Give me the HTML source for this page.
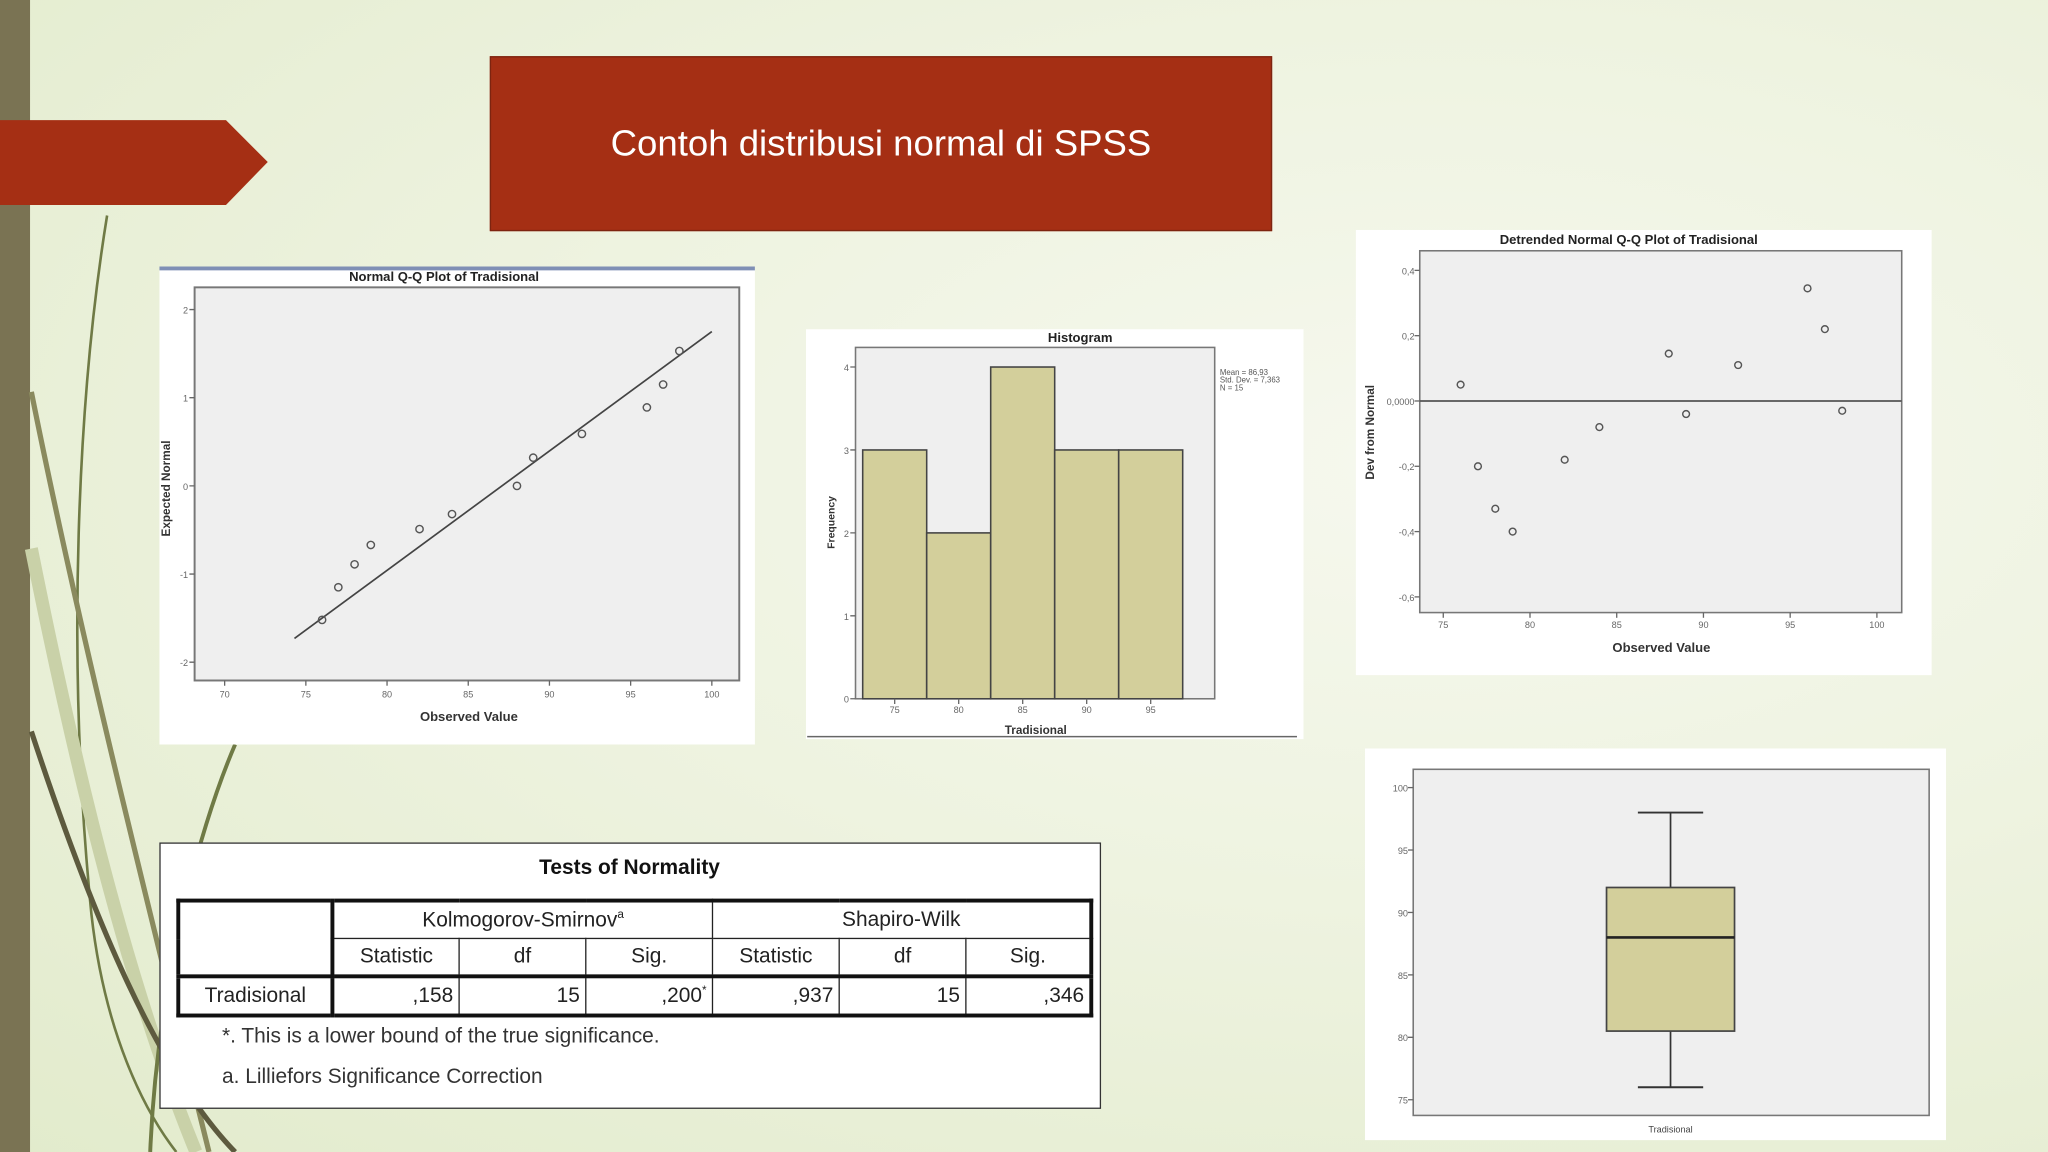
<!DOCTYPE html>
<html><head><meta charset="utf-8">
<style>
html,body{margin:0;padding:0;width:2048px;height:1152px;overflow:hidden;background:#eef2df}
#stage{position:absolute;left:0;top:0;width:1568px;height:882px;transform:scale(1.306122);transform-origin:0 0;
background:radial-gradient(ellipse at 70% 40%,#f6f8ee 0%,#eef3e0 45%,#e2ebcc 100%);font-family:"Liberation Sans",sans-serif;overflow:hidden}
.abs{position:absolute}
svg text{font-family:"Liberation Sans",sans-serif}
table.tn{border-collapse:collapse;position:absolute;left:135px;top:688px;width:699px;table-layout:fixed;font-size:16px;color:#222}
table.tn td{border:1px solid #222;height:27px;padding:0 4px;text-align:center;overflow:hidden;white-space:nowrap}
</style></head><body>
<div id="stage">
<svg class="abs" style="left:0;top:0" width="1568" height="882">
  <rect x="0" y="0" width="23" height="882" fill="#7a7353"/>
  <path d="M82,165 C60,300 50,500 70,700 C80,790 110,850 135,882" stroke="#6f7a45" stroke-width="2" fill="none"/>
  <path d="M24,300 C60,480 110,680 160,882" stroke="#8a8a5e" stroke-width="4" fill="none"/>
  <path d="M24,420 C60,600 100,760 150,882" stroke="#c9d1a8" stroke-width="10" fill="none"/>
  <path d="M180,570 C150,640 120,760 115,882" stroke="#6f7a45" stroke-width="3" fill="none"/>
  <path d="M24,560 C70,700 120,820 180,882" stroke="#5d5a3e" stroke-width="4" fill="none"/>
  <polygon points="0,92 173,92 205,124 173,157 0,157" fill="#a52f14"/>
</svg>
<div class="abs" style="left:375px;top:43px;width:597px;height:132px;background:#a52f14;border:1px solid #7d2410;color:#fff;font-size:28px;display:flex;align-items:center;justify-content:center">Contoh distribusi normal di SPSS</div>

<svg class="abs" id="qq" style="left:122px;top:204px" width="456" height="366"></svg>
<svg class="abs" id="hist" style="left:617px;top:252px" width="381" height="314"></svg>
<svg class="abs" id="dqq" style="left:1038px;top:176px" width="441" height="341"></svg>
<svg class="abs" id="box" style="left:1045px;top:573px" width="445" height="300"></svg>

<div class="abs" style="left:122px;top:645px;width:719px;height:202px;background:#fff;border:1.5px solid #333"></div>
<div class="abs" style="left:122px;top:656px;width:720px;text-align:center;font-weight:bold;font-size:16px;color:#111">Tests of Normality</div>
<table class="tn" style="border:3px solid #111">
<colgroup><col style="width:118px"><col style="width:97px"><col style="width:97px"><col style="width:97px"><col style="width:97px"><col style="width:97px"><col style="width:96px"></colgroup>
<tr><td rowspan="2" style="border-right:3px solid #111;border-bottom:3px solid #111"></td><td colspan="3">Kolmogorov-Smirnov<sup style="font-size:9px">a</sup></td><td colspan="3">Shapiro-Wilk</td></tr>
<tr style="border-bottom:3px solid #111"><td>Statistic</td><td>df</td><td>Sig.</td><td>Statistic</td><td>df</td><td>Sig.</td></tr>
<tr><td style="border-right:3px solid #111">Tradisional</td><td style="text-align:right">,158</td><td style="text-align:right">15</td><td style="text-align:right">,200<sup style="font-size:9px">*</sup></td><td style="text-align:right">,937</td><td style="text-align:right">15</td><td style="text-align:right">,346</td></tr>
</table>
<div class="abs" style="left:170px;top:785px;font-size:16px;color:#333">*. This is a lower bound of the true significance.</div>
<div class="abs" style="left:170px;top:816px;font-size:16px;color:#333">a. Lilliefors Significance Correction</div>
</div>

<script>
// Normal Q-Q data
const qqObserved = [76,77,78,79,82,84,88,89,92,96,97,98];
const qqExpected = [-1.52,-1.15,-0.89,-0.67,-0.49,-0.32,0,0.32,0.59,0.89,1.15,1.53];
const qqLineX = [74.3,100];
const qqLineY = [-1.73,1.75];
const qqXTicks = [70,75,80,85,90,95,100];
const qqYTicks = [2,1,0,-1,-2];
// Histogram data
const histBinStarts = [72.5,77.5,82.5,87.5,92.5];
const histCounts = [3,2,4,3,3];
const histXTicks = [75,80,85,90,95];
const histYTicks = [0,1,2,3,4];
const histStats = ["Mean = 86,93","Std. Dev. = 7,363","N = 15"];
// Detrended Q-Q data
const dqqObserved = [76,77,78,79,82,84,88,89,92,96,97,98];
const dqqDev = [0.05,-0.2,-0.33,-0.4,-0.18,-0.08,0.145,-0.04,0.11,0.345,0.22,-0.03];
const dqqXTicks = [75,80,85,90,95,100];
const dqqYTicks = [0.4,0.2,0,-0.2,-0.4,-0.6];
const dqqYLabels = ["0,4","0,2","0,0000","-0,2","-0,4","-0,6"];
// Boxplot data
const boxStats = {min:76,q1:80.5,median:88,q3:92,max:98};
const boxYTicks = [100,95,90,85,80,75];

const NS="http://www.w3.org/2000/svg";
function mk(svg,tag,attrs,txt){const e=document.createElementNS(NS,tag);for(const k in attrs)e.setAttribute(k,attrs[k]);if(txt!==undefined)e.textContent=txt;svg.appendChild(e);return e;}
function lin(d0,d1,r0,r1){return v=>r0+(v-d0)*(r1-r0)/(d1-d0);}

(function(){
const s=document.getElementById('qq');
mk(s,'rect',{x:0,y:0,width:456,height:366,fill:'#fff'});
mk(s,'rect',{x:0,y:0,width:456,height:3,fill:'#7f8fb5'});
const t=mk(s,'text',{x:218,y:11,'font-size':10,'font-weight':'bold','text-anchor':'middle',fill:'#222'},'Normal Q-Q Plot of Tradisional');

mk(s,'rect',{x:27,y:16,width:417,height:301,fill:'#efefef',stroke:'#777','stroke-width':1.5});
const X=lin(70,100,50,423),Y=lin(2,-2,33,303);
qqXTicks.forEach(v=>{mk(s,'line',{x1:X(v),x2:X(v),y1:317,y2:321,stroke:'#666'});const e=mk(s,'text',{x:X(v),y:330,'font-size':7,'text-anchor':'middle',fill:'#666'},v);});
qqYTicks.forEach(v=>{mk(s,'line',{x1:23,x2:27,y1:Y(v),y2:Y(v),stroke:'#666'});const e=mk(s,'text',{x:22,y:Y(v)+3,'font-size':7,'text-anchor':'end',fill:'#666'},v);});
const l=mk(s,'line',{x1:X(qqLineX[0]),y1:Y(qqLineY[0]),x2:X(qqLineX[1]),y2:Y(qqLineY[1]),stroke:'#444','stroke-width':1.3});

qqObserved.forEach((v,i)=>{const c=mk(s,'circle',{cx:X(v),cy:Y(qqExpected[i]),r:2.8,fill:'none',stroke:'#555','stroke-width':1.1});});
mk(s,'text',{x:237,y:348,'font-size':10,'font-weight':'bold','text-anchor':'middle',fill:'#333'},'Observed Value');
mk(s,'text',{x:0,y:0,'font-size':9,'font-weight':'bold','text-anchor':'middle',fill:'#333',transform:'translate(8,170) rotate(-90)'},'Expected Normal');
})();

(function(){
const s=document.getElementById('hist');
mk(s,'rect',{x:0,y:0,width:381,height:314,fill:'#fff'});
mk(s,'text',{x:210,y:10,'font-size':10,'font-weight':'bold','text-anchor':'middle',fill:'#222'},'Histogram');
mk(s,'rect',{x:38,y:14,width:275,height:269,fill:'#efefef',stroke:'#777','stroke-width':1.2});
const X=lin(75,95,68,264),Y=lin(0,4,283,29);
histBinStarts.forEach((b,i)=>{const r=mk(s,'rect',{x:X(b),y:Y(histCounts[i]),width:X(b+5)-X(b),height:Y(0)-Y(histCounts[i]),fill:'#d3cf9b',stroke:'#444','stroke-width':1.2});});
histXTicks.forEach(v=>{mk(s,'line',{x1:X(v),x2:X(v),y1:283,y2:287,stroke:'#666'});mk(s,'text',{x:X(v),y:294,'font-size':7,'text-anchor':'middle',fill:'#666'},v);});
histYTicks.forEach(v=>{mk(s,'line',{x1:34,x2:38,y1:Y(v),y2:Y(v),stroke:'#666'});mk(s,'text',{x:33,y:Y(v)+3,'font-size':7,'text-anchor':'end',fill:'#666'},v);});
histStats.forEach((t,i)=>mk(s,'text',{x:317,y:35+i*6,'font-size':6,fill:'#555'},t));
mk(s,'text',{x:176,y:310,'font-size':9,'font-weight':'bold','text-anchor':'middle',fill:'#333'},'Tradisional');
mk(s,'text',{x:0,y:0,'font-size':8,'font-weight':'bold','text-anchor':'middle',fill:'#333',transform:'translate(22,148) rotate(-90)'},'Frequency');
mk(s,'line',{x1:1,x2:376,y1:312,y2:312,stroke:'#666','stroke-width':1.2});
})();

(function(){
const s=document.getElementById('dqq');
mk(s,'rect',{x:0,y:0,width:441,height:341,fill:'#fff'});
mk(s,'text',{x:209,y:11,'font-size':10,'font-weight':'bold','text-anchor':'middle',fill:'#222'},'Detrended Normal Q-Q Plot of Tradisional');
mk(s,'rect',{x:49,y:16,width:369,height:277,fill:'#efefef',stroke:'#777','stroke-width':1.2});
const X=lin(75,100,67,399),Y=lin(0.4,-0.6,31,281);
mk(s,'line',{x1:49,x2:418,y1:Y(0),y2:Y(0),stroke:'#555','stroke-width':1.3});
dqqXTicks.forEach(v=>{mk(s,'line',{x1:X(v),x2:X(v),y1:293,y2:297,stroke:'#666'});mk(s,'text',{x:X(v),y:305,'font-size':7,'text-anchor':'middle',fill:'#666'},v);});
dqqYTicks.forEach((v,i)=>{mk(s,'line',{x1:45,x2:49,y1:Y(v),y2:Y(v),stroke:'#666'});mk(s,'text',{x:45,y:Y(v)+3,'font-size':7,'text-anchor':'end',fill:'#666'},dqqYLabels[i]);});
dqqObserved.forEach((v,i)=>{const c=mk(s,'circle',{cx:X(v),cy:Y(dqqDev[i]),r:2.6,fill:'none',stroke:'#555','stroke-width':1.1});});
mk(s,'text',{x:234,y:323,'font-size':10,'font-weight':'bold','text-anchor':'middle',fill:'#333'},'Observed Value');
mk(s,'text',{x:0,y:0,'font-size':9,'font-weight':'bold','text-anchor':'middle',fill:'#333',transform:'translate(14,155) rotate(-90)'},'Dev from Normal');
})();

(function(){
const s=document.getElementById('box');
mk(s,'rect',{x:0,y:0,width:445,height:300,fill:'#fff'});
mk(s,'rect',{x:37,y:16,width:395,height:265,fill:'#efefef',stroke:'#777','stroke-width':1.2});
const Y=lin(100,75,30,269);
const cx=234,hw=49;
boxYTicks.forEach(v=>{mk(s,'line',{x1:33,x2:37,y1:Y(v),y2:Y(v),stroke:'#666'});mk(s,'text',{x:33,y:Y(v)+3,'font-size':7,'text-anchor':'end',fill:'#666'},v);});
mk(s,'line',{x1:cx,x2:cx,y1:Y(boxStats.max),y2:Y(boxStats.q3),stroke:'#333','stroke-width':1.3});
mk(s,'line',{x1:cx,x2:cx,y1:Y(boxStats.q1),y2:Y(boxStats.min),stroke:'#333','stroke-width':1.3});
mk(s,'line',{x1:cx-25,x2:cx+25,y1:Y(boxStats.max),y2:Y(boxStats.max),stroke:'#333','stroke-width':1.5});
mk(s,'line',{x1:cx-25,x2:cx+25,y1:Y(boxStats.min),y2:Y(boxStats.min),stroke:'#333','stroke-width':1.5});
const b=mk(s,'rect',{x:cx-hw,y:Y(boxStats.q3),width:2*hw,height:Y(boxStats.q1)-Y(boxStats.q3),fill:'#d3cf9b',stroke:'#444','stroke-width':1.3});

mk(s,'line',{x1:cx-hw,x2:cx+hw,y1:Y(boxStats.median),y2:Y(boxStats.median),stroke:'#222','stroke-width':2});
mk(s,'text',{x:cx,y:294,'font-size':7,'text-anchor':'middle',fill:'#444'},'Tradisional');
})();
</script>
</body></html>
